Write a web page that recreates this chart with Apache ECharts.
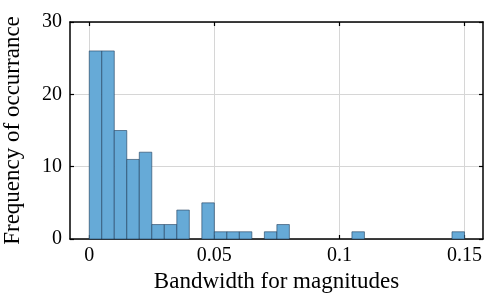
<!DOCTYPE html>
<html><head><meta charset="utf-8">
<script src="https://cdn.jsdelivr.net/npm/echarts@6/dist/echarts.min.js"></script>
<style>html,body{margin:0;padding:0;background:#fff}#c{width:486px;height:295px}</style>
</head><body><div id="c"></div>
<script>
const binStart = 0;
const binWidth = 0.005;
const counts = [26, 26, 15, 11, 12, 2, 2, 4, 0, 5, 1, 1, 1, 0, 1, 2, 0, 0, 0, 0, 0, 1, 0, 0, 0, 0, 0, 0, 0, 1];
const xTicks = [0, 0.05, 0.1, 0.15];
const xTickLabels = ['0', '0.05', '0.1', '0.15'];
const yTicks = [0, 10, 20, 30];
const xTitle = 'Bandwidth for magnitudes';
const yTitle = 'Frequency of occurrance';

const data = [];
counts.forEach((c, i) => { if (c > 0) data.push([binStart + i * binWidth, binStart + (i + 1) * binWidth, c]); });

const font = 'Liberation Serif';
const chart = echarts.init(document.getElementById('c'), null, {renderer: 'canvas'});
const common = {
  axisLine: {show: true, onZero: false, lineStyle: {color: '#000', width: 1.5}},
  axisTick: {show: true, inside: true, length: 4, lineStyle: {color: '#000', width: 1.2}},
};
chart.setOption({
  animation: false,
  grid: {left: 70, right: 3, top: 22, bottom: 56, containLabel: false, outerBoundsMode: 'none'},
  xAxis: [
    {type: 'value', min: -0.0077, max: 0.1574, position: 'bottom',
     name: xTitle, nameLocation: 'middle', nameGap: 30,
     nameTextStyle: {fontFamily: font, fontSize: 23, color: '#000'},
     axisLine: common.axisLine,
     axisTick: Object.assign({}, common.axisTick, {customValues: xTicks}),
     axisLabel: {customValues: xTicks, formatter: v => xTickLabels[xTicks.indexOf(v)] ?? '', fontFamily: font, fontSize: 20, color: '#000', margin: 7},
     splitLine: {show: true, lineStyle: {color: '#d6d6d6', width: 1}}},
    {type: 'value', min: -0.0077, max: 0.1574, position: 'top',
     axisLine: common.axisLine,
     axisTick: Object.assign({}, common.axisTick, {customValues: xTicks}),
     axisLabel: {show: false}, splitLine: {show: false}}
  ],
  yAxis: [
    {type: 'value', min: 0, max: 30, interval: 10, position: 'left',
     name: yTitle, nameLocation: 'middle', nameGap: 46,
     nameTextStyle: {fontFamily: font, fontSize: 23, color: '#000'},
     axisLine: common.axisLine, axisTick: common.axisTick,
     axisLabel: {fontFamily: font, fontSize: 20, color: '#000', margin: 8},
     splitLine: {show: true, lineStyle: {color: '#d6d6d6', width: 1}}},
    {type: 'value', min: 0, max: 30, interval: 10, position: 'right',
     axisLine: common.axisLine, axisTick: common.axisTick,
     axisLabel: {show: false}, splitLine: {show: false}}
  ],
  series: [{
    type: 'custom', xAxisIndex: 0, yAxisIndex: 0,
    data: data,
    encode: {x: [0, 1], y: 2},
    renderItem: function (params, api) {
      const p0 = api.coord([api.value(0), api.value(2)]);
      const p1 = api.coord([api.value(1), 0]);
      return {type: 'rect', shape: {x: p0[0], y: p0[1], width: p1[0] - p0[0], height: p1[1] - p0[1]},
        style: {fill: 'rgb(102,170,215)', stroke: 'rgba(30,60,90,0.75)', lineWidth: 0.8}};
    }
  }]
});
</script></body></html>
